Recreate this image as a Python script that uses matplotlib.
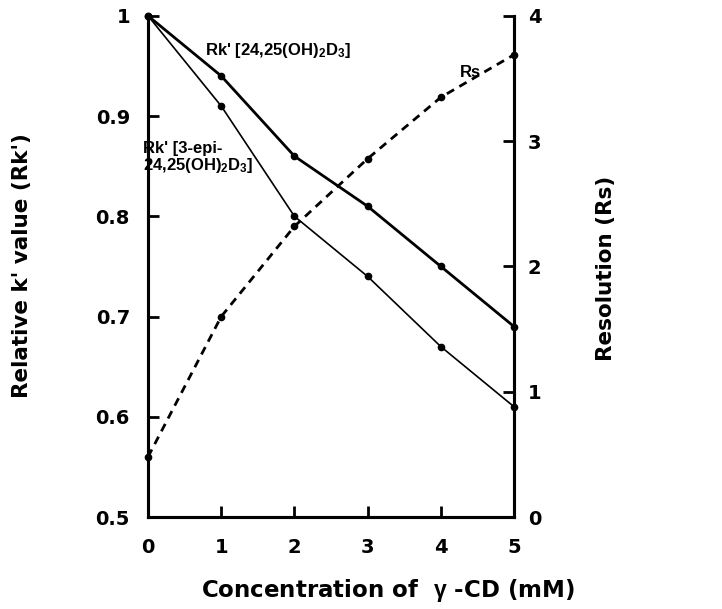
import matplotlib
matplotlib.use("Agg")
import matplotlib.pyplot as plt

conc = [0, 1, 2, 3, 4, 5]
rk_2425 = [1.00, 0.94, 0.86, 0.81, 0.75, 0.69]
rk_epi = [1.00, 0.91, 0.80, 0.74, 0.67, 0.61]
rs = [0.48, 1.60, 2.32, 2.86, 3.35, 3.69]

left_ticks = [0.5, 0.6, 0.7, 0.8, 0.9, 1.0]
left_labels = ["0.5", "0.6", "0.7", "0.8", "0.9", "1"]
right_ticks = [0, 1, 2, 3, 4]
x_ticks = [0, 1, 2, 3, 4, 5]

plt.rcParams['font.family'] = ['Liberation Sans', 'DejaVu Sans']
plt.rcParams['font.weight'] = 'bold'
plt.rcParams['mathtext.fontset'] = 'custom'
plt.rcParams['mathtext.rm'] = 'Liberation Sans:bold'
plt.rcParams['mathtext.it'] = 'Liberation Sans:italic:bold'
plt.rcParams['mathtext.bf'] = 'Liberation Sans:bold'
plt.rcParams['mathtext.default'] = 'rm'

BIG = 'DejaVu Sans'

fig = plt.figure(figsize=(7.22, 6.09), dpi=100)
ax = fig.add_axes([0.205, 0.151, 0.507, 0.823])
ax2 = ax.twinx()

ax.plot(conc, rk_2425, color='black', lw=2.0, marker='o', ms=4.5, zorder=3, clip_on=False)
ax.plot(conc, rk_epi, color='black', lw=1.2, marker='o', ms=4.5, zorder=3, clip_on=False)
ax2.plot(conc, rs, color='black', lw=2.0, ls=(0, (3, 2.2)), marker='o', ms=4.5, zorder=3, clip_on=False)

ax.set_xlim(0, 5)
ax.set_ylim(0.5, 1.0)
ax2.set_ylim(0, 4)

for a in (ax, ax2):
    a.spines['top'].set_visible(False)
    for s in ('left', 'right', 'bottom'):
        a.spines[s].set_linewidth(2.2)

ax.set_xticks(x_ticks)
ax.set_xticklabels([str(v) for v in x_ticks])
ax.set_yticks(left_ticks)
ax.set_yticklabels(left_labels)
ax2.set_yticks(right_ticks)
ax2.set_yticklabels([str(v) for v in right_ticks])

ax.tick_params(axis='y', direction='in', length=8, width=2, pad=13)
ax.tick_params(axis='x', direction='in', length=8, width=2, pad=15)
ax2.tick_params(axis='y', direction='in', length=8, width=2, pad=10)
for lab in ax.get_xticklabels() + ax.get_yticklabels() + ax2.get_yticklabels():
    lab.set_fontfamily(BIG)
    lab.set_fontweight('bold')
    lab.set_fontsize(14)

fig.text(22 / 722, 1 - 266 / 609, "Relative k' value (Rk')", family=BIG, fontsize=15.5,
         fontweight='bold', rotation=90, ha='center', va='center')
fig.text(606 / 722, 1 - 268 / 609, "Resolution (Rs)", family=BIG, fontsize=15.5,
         fontweight='bold', rotation=90, ha='center', va='center')
fig.text(388 / 722, 1 - 590 / 609, r"Concentration of  $\gamma$ -CD (mM)", family=BIG, fontsize=16.5,
         fontweight='bold', ha='center', va='center')

ax.text(0.78, 0.965, r"Rk' [24,25(OH)$_{2}$D$_{3}$]", fontsize=12, fontweight='bold', ha='left', va='center')
ax.text(-0.07, 0.858, "Rk' [3-epi-\n24,25(OH)$_{2}$D$_{3}$]", fontsize=12, fontweight='bold',
        ha='left', va='center', linespacing=1.0)
ax2.text(4.4, 3.55, "Rs", fontsize=12, fontweight='bold', ha='center', va='center')

fig.savefig("out.png", dpi=100)
